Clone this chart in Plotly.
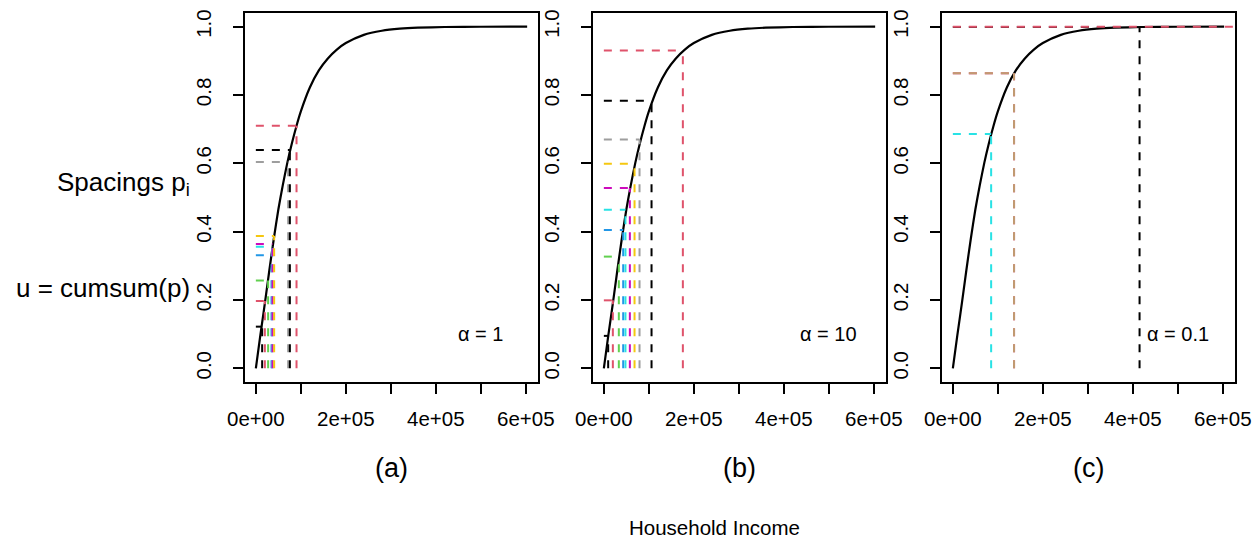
import plotly.graph_objects as go

# R 4.x default palette (black, red, green, blue, cyan, magenta, yellow, gray62)
palette = ["#000000", "#DF536B", "#61D04F", "#2297E6", "#28E2E5",
           "#CD0BBC", "#F5C710", "#9E9E9E"]

# Fitted household-income CDF (shared by all three panels)
cdf_income = [0, 10000, 20000, 30000, 40000, 50000, 60000, 70000, 80000,
              90000, 100000, 120000, 140000, 160000, 180000, 200000, 240000,
              280000, 320000, 360000, 420000, 500000, 603000]
cdf_u = [0.0, 0.097, 0.19, 0.287, 0.38, 0.465, 0.537, 0.602, 0.658,
         0.708, 0.752, 0.822, 0.872, 0.907, 0.933, 0.952, 0.976,
         0.988, 0.994, 0.997, 0.999, 0.9997, 1.0]

# Cumulative spacings u = cumsum(p) and their income quantiles
u_a = [0.122, 0.197, 0.257, 0.331, 0.356, 0.364, 0.387, 0.604, 0.639, 0.710]
q_a = [14000, 20000, 27300, 34800, 36200, 37000, 40700, 71800, 75600, 90400]

u_b = [0.095, 0.199, 0.327, 0.405, 0.464, 0.528, 0.599, 0.670, 0.783, 0.930]
q_b = [9600, 20000, 33300, 43000, 48000, 57800, 68200, 79300, 106000, 175600]

u_c = [0.0, 0.0, 0.0, 0.0, 0.686, 0.864, 0.864, 0.864, 0.999, 0.99995]
q_c = [0, 0, 0, 0, 85100, 136000, 136000, 136000, 415000, 760000]

alpha_labels = ["\u03b1 = 1", "\u03b1 = 10", "\u03b1 = 0.1"]
panel_labels = ["(a)", "(b)", "(c)"]
panels = [(u_a, q_a), (u_b, q_b), (u_c, q_c)]

xtick_vals = [0, 200000, 400000, 600000]
xtick_text = ["0e+00", "2e+05", "4e+05", "6e+05"]
xtick_minor = [100000, 300000, 500000]
ytick_vals = [0.0, 0.2, 0.4, 0.6, 0.8, 1.0]
ytick_text = ["0.0", "0.2", "0.4", "0.6", "0.8", "1.0"]

W, H = 1256, 538
FONT = "Liberation Sans, Arial, Helvetica, sans-serif"

# plot regions in pixels (left, right) and shared (top, bottom)
panel_px = [(245, 538), (593, 886), (942, 1235)]
top_px, bottom_px = 13, 382

# opacity of the 1st, 2nd, 3rd ... copy of a segment drawn on the same spot
overdraw_opacity = [1.0, 0.75, 0.55]

fig = go.Figure()
layout_axes = {}
annotations = []

for k, ((us, qs), (l, r)) in enumerate(zip(panels, panel_px), start=1):
    xa = "x" if k == 1 else f"x{k}"
    ya = "y" if k == 1 else f"y{k}"

    fig.add_trace(go.Scatter(
        x=cdf_income, y=cdf_u, xaxis=xa, yaxis=ya, mode="lines",
        line=dict(color="black", width=2.2, shape="spline", smoothing=0.6),
        hoverinfo="skip", showlegend=False))

    seen = {}
    for i, (u, q) in enumerate(zip(us, qs)):
        col = palette[i % len(palette)]
        n = seen.get((u, q), 0)
        seen[(u, q)] = n + 1
        op = overdraw_opacity[min(n, len(overdraw_opacity) - 1)]
        fig.add_trace(go.Scatter(
            x=[0, q, None, q, q], y=[u, u, None, 0, u],
            xaxis=xa, yaxis=ya, mode="lines", opacity=op,
            line=dict(color=col, width=2, dash="8px,8px"),
            hoverinfo="skip", showlegend=False))

    ax_common = dict(showline=True, linecolor="black", linewidth=1.6,
                     mirror=True, ticks="outside", ticklen=10,
                     tickwidth=1.6, tickcolor="black", showgrid=False,
                     zeroline=False, automargin=False,
                     tickfont=dict(family=FONT, size=20.5, color="black"))
    layout_axes["xaxis" if k == 1 else f"xaxis{k}"] = dict(
        ax_common, domain=[l / W, r / W], anchor=ya,
        range=[-24120, 627120], tickmode="array",
        tickvals=xtick_vals, ticktext=xtick_text, ticklabelstandoff=8,
        minor=dict(tickmode="array", tickvals=xtick_minor, ticks="outside",
                   ticklen=10, tickwidth=1.6, tickcolor="black",
                   showgrid=False))
    layout_axes["yaxis" if k == 1 else f"yaxis{k}"] = dict(
        ax_common, domain=[1 - bottom_px / H, 1 - top_px / H], anchor=xa,
        range=[-0.04, 1.04], tickmode="array",
        tickvals=ytick_vals, ticktext=ytick_text, tickangle=-90,
        ticklabelstandoff=14)

    annotations.append(dict(
        x=500000, y=0.1, xref=xa, yref=ya, text=alpha_labels[k - 1],
        showarrow=False, xanchor="center", yanchor="middle",
        font=dict(family=FONT, size=20, color="black")))
    annotations.append(dict(
        x=(l + r) / 2 / W, y=1 - 468 / H, xref="paper", yref="paper",
        text=panel_labels[k - 1], showarrow=False,
        xanchor="center", yanchor="middle",
        font=dict(family=FONT, size=27, color="black")))

annotations.append(dict(
    x=714 / W, y=1 - 527 / H, xref="paper", yref="paper",
    text="Household Income", showarrow=False,
    xanchor="center", yanchor="middle",
    font=dict(family=FONT, size=20.5, color="black")))
annotations.append(dict(
    x=192 / W, y=1 - 183 / H, xref="paper", yref="paper",
    text="Spacings p<sub>i</sub>", showarrow=False,
    xanchor="right", yanchor="middle",
    font=dict(family=FONT, size=26, color="black")))
annotations.append(dict(
    x=192 / W, y=1 - 288 / H, xref="paper", yref="paper",
    text="u = cumsum(p)", showarrow=False,
    xanchor="right", yanchor="middle",
    font=dict(family=FONT, size=26, color="black")))

fig.update_layout(
    width=W, height=H,
    margin=dict(l=0, r=0, t=0, b=0, pad=0, autoexpand=False),
    paper_bgcolor="white", plot_bgcolor="white",
    annotations=annotations, **layout_axes)

fig.write_html("out.html")
